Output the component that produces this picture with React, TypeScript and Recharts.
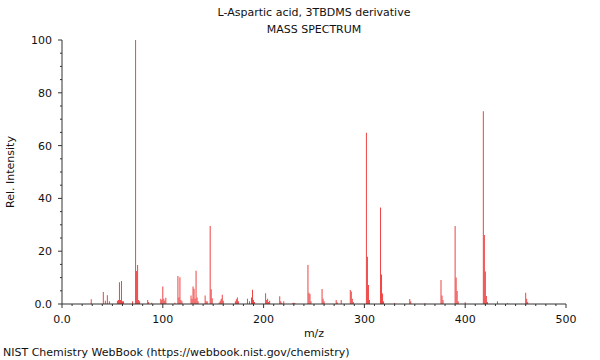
import { BarChart, Bar, XAxis, YAxis } from "recharts";

// peak list: m/z and relative intensity (%)
const mz = [
  29, 41, 43, 45, 47, 55, 56, 57, 58, 59, 60, 61, 70, 73, 74, 75, 76, 77, 85, 86, 89,
  98, 99, 100, 101, 102, 103, 112, 115, 116, 117, 118, 119, 128, 129, 130, 131, 132, 133,
  134, 135, 142, 143, 144, 147, 148, 149, 156, 157, 158, 159, 160, 172, 173, 174, 175,
  184, 186, 188, 189, 190, 191, 202, 203, 204, 205, 206, 216, 217, 218, 220, 229, 230,
  231, 244, 245, 246, 247, 258, 259, 260, 272, 273, 277, 286, 287, 288, 289, 302, 303,
  304, 305, 316, 317, 318, 319, 330, 345, 346, 360, 376, 377, 378, 390, 391, 392, 393,
  400, 418, 419, 420, 421, 422, 432, 442, 460, 461, 462,
];
const intensity = [
  1.8, 4.5, 1.2, 3.3, 1.0, 1.2, 1.5, 8.2, 1.5, 8.7, 1.0, 1.0, 1.0, 100, 12.5, 14.8, 1.5, 1.0, 1.5, 0.8, 0.5,
  2.0, 1.5, 6.6, 2.0, 1.2, 2.4, 0.5, 10.6, 2.5, 10.1, 1.5, 1.0, 3.2, 2.0, 6.6, 5.8, 2.0, 12.6,
  2.5, 1.0, 3.2, 1.0, 1.0, 29.5, 5.6, 2.2, 0.6, 1.2, 2.0, 3.5, 1.2, 1.0, 1.8, 2.5, 1.0,
  2.0, 1.0, 2.5, 5.4, 1.5, 0.8, 4.1, 1.5, 2.0, 0.8, 1.2, 2.9, 1.0, 0.5, 1.0, 0.4, 0.5,
  0.4, 14.8, 4.3, 3.8, 1.0, 5.7, 2.0, 1.0, 1.5, 0.7, 1.5, 5.3, 4.7, 2.0, 0.8, 64.9, 17.9,
  7.2, 1.5, 36.6, 11.2, 4.0, 1.0, 0.4, 1.9, 1.0, 0.3, 9.1, 3.2, 1.5, 29.5, 10.0, 4.9, 1.0,
  0.7, 73.0, 26.1, 12.3, 3.0, 0.8, 1.0, 0.3, 4.3, 2.0, 0.8,
];

const xMajor = [0, 100, 200, 300, 400, 500];
const yMajor = [0, 20, 40, 60, 80, 100];
const xTicks = Array.from({ length: 51 }, (_, i) => i * 10);
const yTicks = Array.from({ length: 21 }, (_, i) => i * 5);

const data = mz.map((m, i) => ({ mz: m, intensity: intensity[i] }));

const FONT = "'DejaVu Sans', sans-serif";
const INK = "#111";
const AXIS = "#333";
const TICK_SIZE = 4;
const X_MARGIN = 7;
const Y_MARGIN = 6;

const fmt = (v: number) => (v === 0 ? "0.0" : String(v));

function XTick(props: any) {
  const { x, y, payload } = props;
  const v = payload.value;
  const major = xMajor.includes(v);
  const axisY = y - TICK_SIZE - X_MARGIN;
  return (
    <g>
      <line x1={x} x2={x} y1={axisY} y2={axisY + (major ? 4 : 2)} stroke={AXIS} />
      {major && (
        <text x={x} y={y} dy="0.71em" textAnchor="middle" fontSize={11} fontFamily={FONT} fill={INK}>
          {fmt(v)}
        </text>
      )}
    </g>
  );
}

function YTick(props: any) {
  const { x, y, payload } = props;
  const v = payload.value;
  const major = yMajor.includes(v);
  const axisX = x + TICK_SIZE + Y_MARGIN;
  return (
    <g>
      <line x1={axisX - (major ? 4 : 2)} x2={axisX} y1={y} y2={y} stroke={AXIS} />
      {major && (
        <text x={x} y={y} dy="0.355em" textAnchor="end" fontSize={11} fontFamily={FONT} fill={INK}>
          {fmt(v)}
        </text>
      )}
    </g>
  );
}

const txt = { position: "absolute" as const, fontFamily: FONT, fontSize: 11, color: INK, lineHeight: "14px", whiteSpace: "nowrap" as const };

export default function App() {
  return (
    <div style={{ position: "absolute", left: 0, top: 0, width: 600, height: 360, background: "#fff" }}>
      <BarChart width={600} height={360} data={data} margin={{ top: 40, right: 34, bottom: 20, left: 0 }} barSize={1}>
        <XAxis
          xAxisId="b"
          type="number"
          dataKey="mz"
          domain={[0, 500]}
          ticks={xTicks}
          interval={0}
          height={36}
          tickSize={TICK_SIZE}
          tickMargin={X_MARGIN}
          tickLine={false}
          tick={XTick}
          axisLine={{ stroke: AXIS }}
          allowDataOverflow
        />
        <XAxis
          xAxisId="t"
          orientation="top"
          type="number"
          dataKey="mz"
          domain={[0, 500]}
          height={0}
          tick={false}
          tickLine={false}
          axisLine={{ stroke: AXIS }}
          allowDataOverflow
        />
        <YAxis
          yAxisId="l"
          type="number"
          domain={[0, 100]}
          ticks={yTicks}
          interval={0}
          width={62}
          tickSize={TICK_SIZE}
          tickMargin={Y_MARGIN}
          tickLine={false}
          tick={YTick}
          axisLine={{ stroke: AXIS }}
          allowDataOverflow
        />
        <YAxis
          yAxisId="r"
          orientation="right"
          type="number"
          domain={[0, 100]}
          width={0}
          tick={false}
          tickLine={false}
          axisLine={{ stroke: AXIS }}
        />
        <Bar dataKey="intensity" xAxisId="b" yAxisId="l" fill="#ee4444" isAnimationActive={false} />
      </BarChart>
      <div style={{ ...txt, left: 0, width: 628, top: 6, textAlign: "center" }}>L-Aspartic acid, 3TBDMS derivative</div>
      <div style={{ ...txt, left: 0, width: 628, top: 23, textAlign: "center" }}>MASS SPECTRUM</div>
      <div style={{ ...txt, left: 0, width: 628, top: 327, textAlign: "center" }}>m/z</div>
      <div style={{ ...txt, left: 3, top: 346 }}>NIST Chemistry WebBook (https://webbook.nist.gov/chemistry)</div>
      <div style={{ ...txt, left: 11, top: 172, transform: "translate(-50%, -50%) rotate(-90deg)" }}>Rel. Intensity</div>
    </div>
  );
}
